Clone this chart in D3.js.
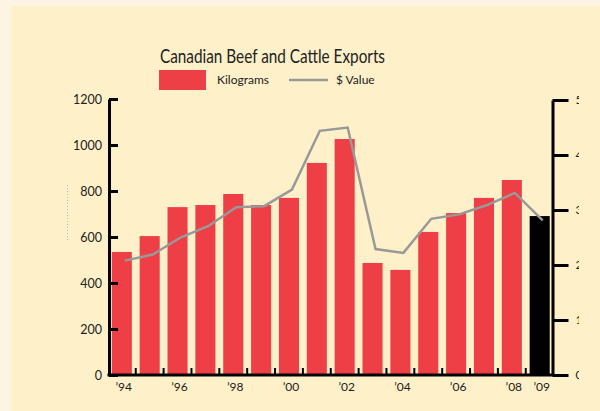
<!DOCTYPE html>
<html>
<head>
<meta charset="utf-8">
<script src="https://cdn.jsdelivr.net/npm/d3@7"></script>
<style>
  html, body { margin: 0; padding: 0; background: #fdf4e3; }
  svg { display: block; }
  text { font-family: Lato, "Open Sans", sans-serif; fill: #222; }
</style>
</head>
<body>
<svg id="chart" width="600" height="411"></svg>
<script>
// data
const years = ['94', '95', '96', '97', '98', '99', '00', '01', '02', '03', '04', '05', '06', '07', '08', '09'];
const kilograms = [535, 604, 730, 739, 787, 739, 770, 922, 1026, 487, 457, 622, 704, 770, 848, 691];
const dollarValue = [2.08, 2.19, 2.50, 2.71, 3.05, 3.07, 3.37, 4.44, 4.50, 2.29, 2.22, 2.84, 2.92, 3.09, 3.31, 2.81];
const leftTicks = [0, 200, 400, 600, 800, 1000, 1200];
const rightTicks = [0, 1, 2, 3, 4, 5];
const labelledYears = ['94', '96', '98', '00', '02', '04', '06', '08', '09'];

const barColor = '#ef3f46';
const lastBarColor = '#000000';
const lineColor = '#999999';

const svg = d3.select('#chart');

// inner panel
svg.append('rect')
  .attr('x', 11).attr('y', 6)
  .attr('width', 589).attr('height', 405)
  .attr('fill', '#fef0c9');

const plotLeft = 109, plotRight = 552.5, plotTop = 99, plotBottom = 375;

const x = d3.scaleBand()
  .domain(years)
  .range([plotLeft, plotRight])
  .paddingInner(0.28)
  .paddingOuter(0.1);

const y = d3.scaleLinear().domain([0, 1200]).range([plotBottom, plotTop]);
const y2 = d3.scaleLinear().domain([0, 5]).range([plotBottom, 100]);

// bars
svg.append('g')
  .selectAll('rect')
  .data(years)
  .join('rect')
    .attr('x', d => x(d))
    .attr('width', x.bandwidth())
    .attr('y', (d, i) => y(kilograms[i]))
    .attr('height', (d, i) => plotBottom - y(kilograms[i]))
    .attr('fill', (d, i) => i === years.length - 1 ? lastBarColor : barColor);

// dollar value line
const line = d3.line()
  .x((d, i) => x(years[i]) + x.bandwidth() / 2 + 3)
  .y(d => y2(d));

svg.append('path')
  .datum(dollarValue)
  .attr('d', line)
  .attr('fill', 'none')
  .attr('stroke', lineColor)
  .attr('stroke-width', 2.5);

// left axis
const leftAxis = svg.append('g')
  .attr('transform', `translate(${plotLeft},0)`)
  .call(d3.axisLeft(y).tickValues(leftTicks).tickFormat(d3.format('d'))
    .tickSize(-9).tickSizeOuter(0).tickPadding(7));

leftAxis.select('.domain').attr('stroke', '#000').attr('stroke-width', 3);
leftAxis.selectAll('.tick line').attr('stroke', '#000').attr('stroke-width', 3);
leftAxis.selectAll('.tick text')
  .attr('font-size', 12.5).attr('font-family', 'Lato, sans-serif').attr('fill', '#222');

// right axis, labels clipped by the panel edge
svg.append('clipPath').attr('id', 'rclip')
  .append('rect').attr('x', 0).attr('y', 0).attr('width', 579).attr('height', 411);

const rightWrap = svg.append('g').attr('clip-path', 'url(#rclip)');
const rightAxis = rightWrap.append('g')
  .attr('transform', `translate(${plotRight},0)`)
  .call(d3.axisRight(y2).tickValues(rightTicks).tickSize(16).tickSizeOuter(0).tickPadding(7));

rightAxis.select('.domain').attr('stroke', '#000').attr('stroke-width', 3);
rightAxis.selectAll('.tick line').attr('stroke', '#000').attr('stroke-width', 3);
rightAxis.selectAll('.tick text')
  .attr('font-size', 12).attr('font-family', 'Lato, sans-serif').attr('fill', '#222');

// x axis with small up ticks between bars
const step = x.step();
const boundaries = years.slice(1).map(d => x(d) - (step - x.bandwidth()) / 2);

svg.append('g')
  .selectAll('line')
  .data(boundaries)
  .join('line')
    .attr('x1', d => d).attr('x2', d => d)
    .attr('y1', plotBottom).attr('y2', plotBottom - 7)
    .attr('stroke', '#000').attr('stroke-width', 2);

svg.append('line')
  .attr('x1', plotLeft - 1.5).attr('x2', plotRight + 1.5)
  .attr('y1', plotBottom).attr('y2', plotBottom)
  .attr('stroke', '#000').attr('stroke-width', 3);

svg.append('g')
  .selectAll('text')
  .data(labelledYears)
  .join('text')
    .attr('x', d => x(d) + x.bandwidth() / 2 + 2)
    .attr('y', 391)
    .attr('text-anchor', 'middle')
    .attr('font-size', 12)
    .text(d => '\u2019' + d);

// faint clipped left axis title
svg.append('line')
  .attr('x1', 67.5).attr('x2', 67.5)
  .attr('y1', 185).attr('y2', 242)
  .attr('stroke', '#bbb').attr('stroke-width', 1)
  .attr('stroke-dasharray', '1,2');

// title
svg.append('text')
  .attr('x', 160).attr('y', 63)
  .attr('font-size', 19)
  .attr('textLength', 225)
  .attr('lengthAdjust', 'spacingAndGlyphs')
  .text('Canadian Beef and Cattle Exports');

// legend
svg.append('rect')
  .attr('x', 159).attr('y', 70)
  .attr('width', 47).attr('height', 20)
  .attr('fill', barColor);

svg.append('text')
  .attr('x', 217).attr('y', 84)
  .attr('font-size', 12)
  .text('Kilograms');

svg.append('line')
  .attr('x1', 289).attr('x2', 328)
  .attr('y1', 80).attr('y2', 80)
  .attr('stroke', lineColor).attr('stroke-width', 2.5);

svg.append('text')
  .attr('x', 336).attr('y', 84)
  .attr('font-size', 12)
  .text('$ Value');
</script>
</body>
</html>
